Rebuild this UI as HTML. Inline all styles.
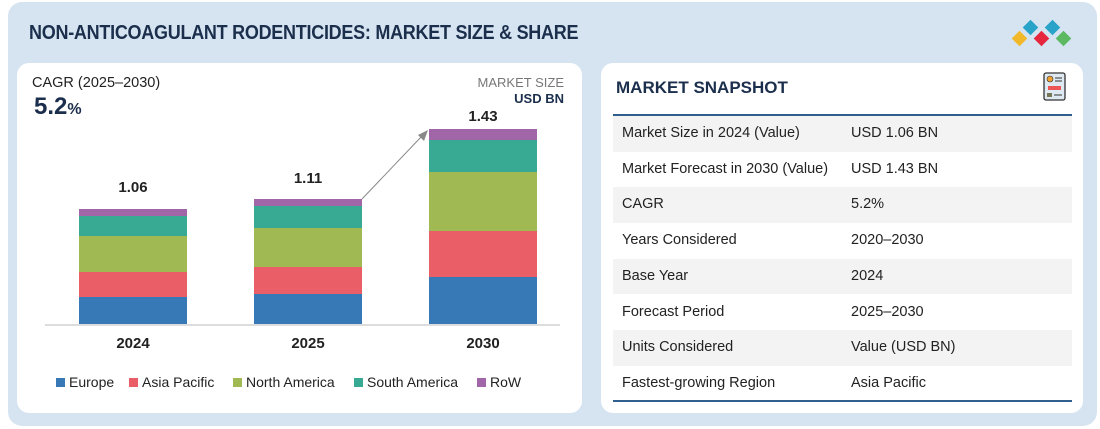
<!DOCTYPE html>
<html><head><meta charset="utf-8"><style>
*{margin:0;padding:0;box-sizing:border-box}
body{width:1100px;height:429px;background:#fff;font-family:"Liberation Sans",sans-serif;position:relative;overflow:hidden}
.bg{position:absolute;left:8px;top:2px;width:1089px;height:424px;background:#d6e4f1;border-radius:14px}
.title{position:absolute;left:29px;top:22px;font-size:20px;font-weight:bold;color:#1b2f4d;letter-spacing:-0.3px;transform:scaleX(0.9);transform-origin:0 0;white-space:nowrap}
.panel{position:absolute;top:63px;height:350px;background:#fff;border-radius:12px}
.abs{position:absolute}
.dia{position:absolute;width:11px;height:11px;transform:rotate(45deg)}
.row{position:absolute;left:613px;width:459px;height:35.7px;font-size:14.5px;color:#222}
.row span{position:absolute;top:9px}
.leg{position:absolute;top:374px;font-size:14px;color:#222}
.leg i{display:inline-block;width:9px;height:9px;margin-right:4px;vertical-align:0px}
</style></head><body>
<div class="bg"></div>
<div class="title">NON-ANTICOAGULANT RODENTICIDES: MARKET SIZE &amp; SHARE</div>
<div class="dia" style="left:1014px;top:33px;background:#f1b92a"></div>
<div class="dia" style="left:1025px;top:22px;background:#2aa3c8"></div>
<div class="dia" style="left:1036px;top:33px;background:#e5263c"></div>
<div class="dia" style="left:1047px;top:22px;background:#2aa3c8"></div>
<div class="dia" style="left:1058px;top:33px;background:#5db862"></div>
<div class="panel" style="left:17px;width:565px"></div>
<div class="panel" style="left:601px;width:482px"></div>
<div class="abs" style="left:32px;top:75px;font-size:14.5px;color:#222">CAGR (2025–2030)</div>
<div class="abs" style="left:34px;top:93px;font-size:24px;font-weight:bold;color:#1b2f4d">5.2<span style="font-size:16px">%</span></div>
<div class="abs" style="right:536px;top:75px;font-size:13px;color:#777;text-align:right">MARKET SIZE</div>
<div class="abs" style="right:536px;top:91px;font-size:13px;font-weight:bold;color:#1b2f4d;text-align:right">USD BN</div>
<svg class="abs" style="left:0;top:0" width="600" height="429">
<line x1="45" y1="325" x2="560" y2="325" stroke="#ddd" stroke-width="2"/>
<g>
<rect x="79" y="209" width="108" height="7" fill="#a066a8"/><rect x="79" y="216" width="108" height="20" fill="#38aa93"/><rect x="79" y="236" width="108" height="36" fill="#a1b952"/><rect x="79" y="272" width="108" height="25" fill="#ea5f67"/><rect x="79" y="297" width="108" height="27" fill="#3778b7"/>
<rect x="254" y="199" width="108" height="7" fill="#a066a8"/><rect x="254" y="206" width="108" height="22" fill="#38aa93"/><rect x="254" y="228" width="108" height="39" fill="#a1b952"/><rect x="254" y="267" width="108" height="27" fill="#ea5f67"/><rect x="254" y="294" width="108" height="30" fill="#3778b7"/>
<rect x="429" y="129" width="108" height="11" fill="#a066a8"/><rect x="429" y="140" width="108" height="32" fill="#38aa93"/><rect x="429" y="172" width="108" height="59" fill="#a1b952"/><rect x="429" y="231" width="108" height="46" fill="#ea5f67"/><rect x="429" y="277" width="108" height="47" fill="#3778b7"/>
</g>
<line x1="362" y1="199" x2="422" y2="136" stroke="#888" stroke-width="1"/>
<polygon points="428,130 418,135 424,141" fill="#888"/>
<g font-family="Liberation Sans" font-weight="bold" font-size="15" fill="#222" text-anchor="middle">
<text x="133" y="192">1.06</text><text x="308" y="183">1.11</text><text x="483" y="121">1.43</text>
<text x="133" y="348">2024</text><text x="308" y="348">2025</text><text x="483" y="348">2030</text>
</g>
</svg>
<div class="leg" style="left:56px"><i style="background:#3778b7"></i>Europe</div>
<div class="leg" style="left:129px"><i style="background:#ea5f67"></i>Asia Pacific</div>
<div class="leg" style="left:233px"><i style="background:#a1b952"></i>North America</div>
<div class="leg" style="left:354px"><i style="background:#38aa93"></i>South America</div>
<div class="leg" style="left:477px"><i style="background:#a066a8"></i>RoW</div>
<div class="abs" style="left:616px;top:78px;font-size:17px;font-weight:bold;color:#1b2f4d">MARKET SNAPSHOT</div>
<svg class="abs" style="left:1043px;top:72px" width="24" height="30"><rect x="1" y="1" width="21" height="27" rx="2" fill="#dfe9f2" stroke="#333" stroke-width="1.3"/><circle cx="7" cy="7" r="3" fill="#f0a030" stroke="#333" stroke-width=".6"/><rect x="5" y="14" width="13" height="4" fill="#e55" /><rect x="4" y="21" width="5" height="4" fill="#775"/><line x1="12" y1="6" x2="19" y2="6" stroke="#333"/><line x1="12" y1="9" x2="19" y2="9" stroke="#333"/><line x1="11" y1="23" x2="19" y2="23" stroke="#333"/></svg>
<div class="abs" style="left:613px;top:114px;width:459px;height:2px;background:#2e5f8e"></div>
<div class="row" style="top:116px;background:#f3f3f3"><span style="left:9px">Market Size in 2024 (Value)</span><span style="left:238px">USD 1.06 BN</span></div>
<div class="row" style="top:151.7px"><span style="left:9px">Market Forecast in 2030 (Value)</span><span style="left:238px">USD 1.43 BN</span></div>
<div class="row" style="top:187.4px;background:#f3f3f3"><span style="left:9px">CAGR</span><span style="left:238px">5.2%</span></div>
<div class="row" style="top:223.1px"><span style="left:9px">Years Considered</span><span style="left:238px">2020–2030</span></div>
<div class="row" style="top:258.8px;background:#f3f3f3"><span style="left:9px">Base Year</span><span style="left:238px">2024</span></div>
<div class="row" style="top:294.5px"><span style="left:9px">Forecast Period</span><span style="left:238px">2025–2030</span></div>
<div class="row" style="top:330.2px;background:#f3f3f3"><span style="left:9px">Units Considered</span><span style="left:238px">Value (USD BN)</span></div>
<div class="row" style="top:365.9px"><span style="left:9px">Fastest-growing Region</span><span style="left:238px">Asia Pacific</span></div>
<div class="abs" style="left:613px;top:400px;width:459px;height:2px;background:#2e5f8e"></div>
</body></html>
